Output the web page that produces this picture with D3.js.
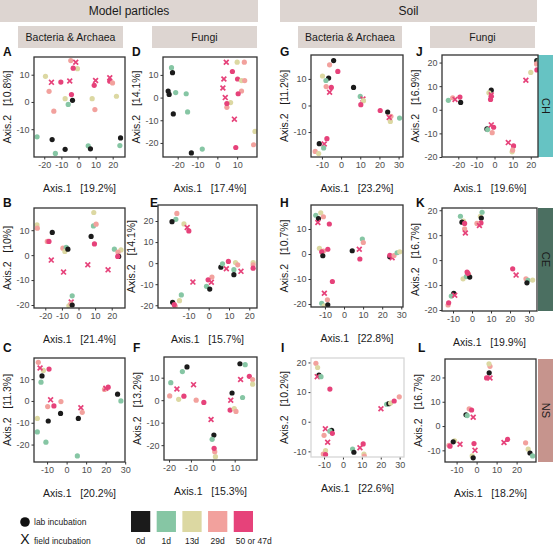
<!DOCTYPE html>
<html>
<head>
<meta charset="utf-8">
<script src="https://cdn.jsdelivr.net/npm/d3@7"></script>
<style>
  body { margin: 0; background: #fff; }
  svg { font-family: "Liberation Sans", Arial, sans-serif; }
</style>
</head>
<body>
<svg id="chart" width="555" height="546"></svg>
<script>
// Legend levels
const dayLevels = [0, 1, 13, 29, 50];
const dayLabels = ["0d", "1d", "13d", "29d", "50 or 47d"];
const dayColors = ["#1b1b1b", "#86c6a4", "#dcd8a2", "#f2a19d", "#e6427a"];

// Points per panel: [Axis.1, Axis.2, day, incubation (L = lab, F = field)]
const ptsA = [[-4.5,15.2,29,"L"],[-1.6,14.6,50,"F"],[-0.6,12.2,13,"L"],[-3.1,12.4,50,"L"],[-19.3,9.4,13,"L"],[-15.8,7.2,50,"F"],[-10.3,7.3,50,"L"],[-5.1,7.7,50,"F"],[-17.2,3.9,29,"L"],[-4.1,2.7,50,"L"],[-7.8,1.2,13,"L"],[-3.5,0.6,0,"L"],[-14.4,-3.4,29,"L"],[-6.0,-0.9,1,"L"],[10,7.9,50,"F"],[9.2,6.1,50,"L"],[18.3,8.9,50,"F"],[18.3,7.6,50,"L"],[19.9,7.0,29,"L"],[8.0,1.2,13,"L"],[9.6,-2.8,29,"L"],[22.2,2.1,13,"L"],[-24.2,-12.8,1,"L"],[-15.4,-13.8,0,"L"],[-13.5,-18.9,1,"L"],[-7.8,-17.4,0,"L"],[5.7,-16.1,1,"L"],[7.0,-17.2,0,"L"],[24.6,-13.2,0,"L"],[24.2,-16.0,1,"L"]];
const ptsB = [[-25,12.1,13,"L"],[-24.8,10.8,29,"L"],[-15.8,9.1,0,"L"],[-18.8,5.5,29,"L"],[-17.8,5.5,50,"L"],[-16.4,-2,50,"F"],[-9.4,2.8,29,"L"],[-7.4,3.1,1,"L"],[-8.2,1.5,13,"L"],[-6.4,2.4,0,"L"],[-9,-6.8,50,"F"],[9.2,17.1,13,"L"],[7.6,7.5,0,"L"],[9,11.7,1,"L"],[10.6,12.4,29,"L"],[9.6,4.5,50,"L"],[5.6,-3.9,50,"F"],[17.8,-5.9,50,"F"],[21.6,2.4,1,"L"],[25.6,2.1,13,"L"],[23.8,1.2,29,"L"],[24.2,-0.5,0,"L"],[23.6,-0.5,50,"L"],[-3.8,-16.3,1,"L"],[-4.4,-18.8,50,"F"],[-5.8,-20.3,13,"L"],[-4.6,-19.5,29,"L"],[-3.8,-20,0,"L"]];
const ptsC = [[-14.5,17.7,29,"L"],[-11.9,14,13,"L"],[-13.6,15.1,50,"F"],[-9,14.6,50,"L"],[-12.6,11.5,0,"L"],[-13.1,8.6,1,"L"],[-8.2,0.5,50,"F"],[-2.9,-0.3,29,"L"],[-9.7,-2.6,29,"L"],[-6.5,-2.3,50,"L"],[-3.1,-5.7,0,"L"],[-9.4,-9.2,0,"L"],[-15,-8,13,"L"],[-15,-14.2,1,"L"],[-10.6,-18.9,1,"L"],[5.5,-25.2,1,"L"],[6,-8,0,"L"],[7.3,-3.1,50,"F"],[8,-5.2,29,"L"],[19.4,5.3,29,"L"],[20.1,5.8,50,"F"],[21.3,6.3,50,"L"],[26.1,3.1,0,"L"],[27.8,0,1,"L"]];
const ptsD = [[-23.1,13.2,1,"L"],[-22.6,11.0,0,"L"],[-24.8,2.9,0,"L"],[-24.3,1.4,0,"L"],[-21.0,2.2,1,"L"],[-15.7,1.7,1,"L"],[-22.2,-7.2,0,"L"],[-15.0,-6.3,1,"L"],[-13.1,-24.4,0,"L"],[-7.6,-22.7,1,"L"],[4.5,15.6,50,"F"],[10.0,15.6,13,"L"],[13.6,15.6,29,"L"],[7.6,11.5,50,"L"],[3.3,8.2,50,"F"],[10.2,8.2,50,"L"],[12.2,7.5,13,"L"],[13.8,7.5,29,"L"],[2.8,4.2,50,"F"],[12.2,2.9,29,"L"],[10.5,1.7,50,"L"],[4.0,0,50,"F"],[4.8,-4.3,29,"L"],[6.7,-2.2,13,"L"],[4.8,-2.6,50,"L"],[8.6,-9.5,50,"F"],[19.0,-14.9,13,"L"],[9.3,-22.0,50,"L"],[18.3,-20.8,29,"L"]];
const ptsE = [[-15.7,23.6,29,"L"],[-16.2,20.8,1,"L"],[-18.1,19.7,0,"L"],[-12.2,18.6,13,"L"],[-10.6,16.9,50,"F"],[-9.8,15.3,50,"L"],[-7.8,-9,50,"F"],[-13.5,-15.1,1,"L"],[-14.4,-17.8,13,"L"],[-16.5,-20.4,29,"L"],[-17.8,-18.6,0,"L"],[-17,-19.7,50,"L"],[-1.1,-11,1,"L"],[0.5,-12.3,0,"L"],[1.6,-6.6,29,"L"],[-0.3,-7.9,50,"L"],[1.3,-9.1,50,"F"],[6,-1.9,0,"L"],[6.8,-0.3,1,"L"],[9.7,0.8,50,"L"],[8.7,-2.7,50,"F"],[13.2,0.3,13,"L"],[14.3,-0.8,29,"L"],[12.4,-3.1,1,"L"],[12.4,-5.5,0,"L"],[15.9,-3.9,50,"F"],[21.9,0.3,13,"L"],[21.9,-0.8,29,"L"],[21.9,-2.4,50,"L"]];
const ptsF = [[-11.8,14.8,0,"L"],[-13.9,12.7,1,"L"],[-19.2,7.8,1,"L"],[-16.4,5,50,"F"],[-19.7,1.9,29,"L"],[-15.6,0.4,13,"L"],[-13.2,1.8,50,"L"],[-8.8,6.9,50,"F"],[-7.6,0,29,"L"],[-4.1,-1,50,"L"],[-0.8,-8.6,50,"F"],[0.5,-15.5,0,"L"],[-0.3,-17.4,1,"L"],[1.2,-25.1,13,"L"],[0.9,-22.9,29,"L"],[0.6,-21.4,50,"L"],[12.4,16.2,0,"L"],[14.8,15.8,1,"L"],[16.7,10.6,50,"L"],[18.2,9.2,29,"L"],[18.2,7.1,13,"L"],[12.7,9.2,50,"F"],[8.8,3.2,0,"L"],[8.2,0,50,"F"],[7.9,-4.4,50,"L"],[9.8,-3.7,13,"L"],[10.6,-5,29,"L"],[13.6,1.2,1,"L"]];
const ptsG = [[-3.9,16.9,0,"L"],[-6,15.3,29,"L"],[-1.7,12.8,50,"L"],[-9.7,11.1,13,"L"],[-6.5,10.3,0,"L"],[-7.9,9.4,1,"L"],[-7.8,7.1,29,"L"],[-5.1,6.8,50,"L"],[-6.0,5.0,50,"F"],[6.5,6.8,0,"L"],[10,3.4,1,"L"],[11.4,2.4,50,"F"],[11.7,1.8,13,"L"],[10.3,0.3,50,"L"],[20.4,-1.9,50,"L"],[24.3,-2.5,0,"L"],[26,-4.1,29,"L"],[25.7,-6,13,"L"],[25.1,-4.5,50,"F"],[30.5,-4.75,1,"L"],[-11.4,-14.4,0,"L"],[-7.4,-12.5,50,"L"],[-8.8,-14.5,50,"F"],[-9.1,-16,1,"L"],[-13.5,-17.3,29,"L"],[-11.7,-18.1,13,"L"]];
const ptsH = [[-14.8,15.5,1,"L"],[-12.2,16.5,13,"L"],[-10.8,14.9,29,"L"],[-13.4,14.2,0,"L"],[-13.7,12.6,50,"F"],[-7.7,12,50,"L"],[-12.9,2.3,13,"L"],[-10.8,1.2,29,"L"],[-11.7,0.9,50,"L"],[-8.5,1.9,50,"L"],[-11.1,-0.7,0,"L"],[4.3,1.3,0,"L"],[8,1.9,50,"F"],[8.3,-2,50,"L"],[9.6,6,1,"L"],[10.1,4.6,29,"L"],[24,-1.1,0,"L"],[24,-0.5,50,"L"],[25.2,-1.5,50,"F"],[26.2,-0.6,29,"L"],[27.8,0.5,1,"L"],[29.2,0.9,13,"L"],[-6.1,-11,50,"L"],[-10.3,-15.7,50,"F"],[-8.7,-18.3,29,"L"],[-11.7,-19.7,1,"L"],[-10.4,-20.7,13,"L"],[-8.5,-20.3,0,"L"]];
const ptsI = [[-14.3,19.7,29,"L"],[-13.4,18.3,13,"L"],[-12.7,15.7,0,"L"],[-13.6,15.2,50,"F"],[-11.6,15.2,1,"L"],[-6.9,11,50,"L"],[-9.3,-2.4,50,"F"],[-10,-4.6,29,"L"],[-8.1,-6.9,50,"F"],[-6,-2.9,0,"L"],[-6.9,-3.2,1,"L"],[-5.6,-3.9,50,"L"],[-9.2,-9.7,13,"L"],[-10.4,-10.9,29,"L"],[-9.2,-11.1,50,"L"],[5.1,-9.2,1,"L"],[5.8,-10.3,0,"L"],[9,-8.8,50,"F"],[10.7,-7.5,50,"L"],[11.1,-10.9,13,"L"],[11.3,-11.6,29,"L"],[20.1,4.4,50,"F"],[23.1,5.9,1,"L"],[24.3,6.1,0,"L"],[25.2,6.3,13,"L"],[27.1,7,50,"L"],[29.8,8.4,29,"L"]];
const ptsJ = [[23.3,20.8,0,"L"],[24.5,20.8,1,"L"],[23.2,19.4,29,"L"],[20,15.8,13,"L"],[23.4,16.9,50,"L"],[17.3,12.5,50,"F"],[-25.5,4.0,1,"L"],[-23.1,5.1,29,"L"],[-21.8,4.4,50,"F"],[-19.1,5.4,50,"L"],[-18.7,3.1,0,"L"],[-1.8,8.3,0,"L"],[-3.1,7.2,13,"L"],[-1.8,6.3,50,"F"],[-1.8,5.8,50,"L"],[-2.2,4.4,50,"L"],[-4.2,-8.1,0,"L"],[-3.8,-8.4,1,"L"],[-1.8,-6.4,50,"F"],[-0.5,-7.4,50,"L"],[-1.3,-9.7,29,"L"],[7.6,-13.9,50,"F"],[10.5,-15.3,50,"L"],[9.7,-17.8,13,"L"],[10,-17.1,29,"L"]];
const ptsK = [[-6.1,17.6,1,"L"],[-4.5,15.6,13,"L"],[-5.3,15.2,0,"L"],[-3.9,14.7,50,"L"],[-3.9,12.5,29,"L"],[-3.5,10.9,50,"F"],[4.4,17.6,13,"L"],[5.3,19.2,1,"L"],[4.9,16.9,0,"L"],[4.7,14.9,50,"L"],[2.6,14.7,29,"L"],[3.9,13.9,50,"F"],[-4.7,-7.5,13,"L"],[-3,-6.6,1,"L"],[-1.8,-5.7,29,"L"],[-2.6,-4.8,50,"L"],[-1.2,-6.8,0,"L"],[-2.2,-5.3,50,"L"],[21.4,-3.5,50,"L"],[23.2,-6,50,"F"],[28.4,-7.5,29,"L"],[29.5,-8.1,1,"L"],[28.9,-9.1,0,"L"],[31.9,-8,13,"L"],[-9.6,-13.3,0,"L"],[-10.9,-14.4,1,"L"],[-9.1,-14.1,50,"F"],[-12.6,-18,29,"L"],[-12.3,-17.1,50,"L"]];
const ptsL = [[6.7,24.6,29,"L"],[6.2,25.6,13,"L"],[6.3,21.9,0,"L"],[5,19.8,50,"L"],[6.7,19.8,50,"F"],[-3.7,7.1,29,"L"],[-2.5,6.6,50,"L"],[-5.3,4.6,0,"L"],[-4.7,4.3,1,"L"],[-1.7,3.6,50,"F"],[-11,-6.1,13,"L"],[-11.7,-6.5,0,"L"],[-13.8,-7.9,29,"L"],[-13.3,-8.3,50,"L"],[-8.3,-7.5,50,"F"],[-1.3,-7.2,50,"L"],[-0.8,-10,50,"F"],[-2.2,-12.3,13,"L"],[-1.7,-13.1,0,"L"],[13.7,-6.8,50,"F"],[15.5,-5.5,50,"L"],[24.5,-6.9,29,"L"],[25.8,-9.5,13,"L"],[26.7,-11.1,0,"L"],[28,-12.3,1,"L"]];

// Axis titles (percent of variation)
const axis1Pct = { A: "19.2%", B: "21.4%", C: "20.2%", D: "17.4%", E: "15.7%", F: "15.3%", G: "23.2%", H: "22.8%", I: "22.6%", J: "19.6%", K: "19.9%", L: "18.2%" };
const axis2Pct = { A: "10.8%", B: "10%", C: "11.3%", D: "14.1%", E: "14.1%", F: "13.2%", G: "11.2%", H: "10.7%", I: "10.2%", J: "16.9%", K: "16.7%", L: "16.7%" };

// Axis ranges and ticks
const xDomains = { A: [-26, 27.2], B: [-26.8, 28], C: [-16.7, 29.9], D: [-27.4, 20], E: [-25, 23.8], F: [-22.3, 20.2], G: [-15.7, 32.3], H: [-17.3, 30.9], I: [-16.9, 32.3], J: [-29, 24], K: [-15.8, 34.2], L: [-15.8, 29.7] };
const yDomains = { A: [-20.2, 16.5], B: [-21.2, 18.9], C: [-28, 19.7], D: [-26.2, 17.9], E: [-21.3, 27.6], F: [-26.6, 19.2], G: [-19.4, 19], H: [-21.2, 19.6], I: [-11.9, 21.5], J: [-20, 23.2], K: [-20.4, 20.9], L: [-14.8, 27.6] };
const xTicks = { A: [-20,-10,0,10,20], B: [-20,-10,0,10,20], C: [-10,0,10,20,30], D: [-20,-10,0,10], E: [-10,0,10,20], F: [-20,-10,0,10], G: [-10,0,10,20,30], H: [-10,0,10,20,30], I: [-10,0,10,20,30], J: [-20,-10,0,10,20], K: [-10,0,10,20,30], L: [-10,0,10,20] };
const yTicks = { A: [-10,0,10], B: [-20,-10,0,10], C: [-20,-10,0,10], D: [-20,-10,0,10], E: [-20,-10,0,10,20], F: [-20,-10,0,10], G: [-10,0,10], H: [-20,-10,0,10], I: [-10,0,10,20], J: [-20,-10,0,10,20], K: [-20,-10,0,10,20], L: [-10,0,10,20] };

const panelPoints = { A: ptsA, B: ptsB, C: ptsC, D: ptsD, E: ptsE, F: ptsF, G: ptsG, H: ptsH, I: ptsI, J: ptsJ, K: ptsK, L: ptsL };

const stripLabels = ["CH", "CE", "NS"];
const stripColors = ["#66c3c3", "#4b6f61", "#c6948d"];

// Layout (pixels): panel boxes [x0, x1, y0, y1]
const layout = {
  A: [34, 125, 57, 157], B: [34, 125, 208, 308], C: [34, 125, 358, 462],
  D: [163, 257, 57, 157], E: [158, 257, 205, 308], F: [164, 257, 357, 460],
  G: [311, 403, 55, 157], H: [311, 403, 205, 307], I: [311, 404, 358, 457],
  J: [442, 538, 55, 157], K: [442, 537, 208, 311], L: [445, 536, 359, 462]
};
const letterPos = {
  A: [3, 56], B: [3, 207], C: [3, 352], D: [132, 56], E: [150, 207], F: [133, 352],
  G: [280, 56], H: [280, 207], I: [281, 352], J: [416, 56], K: [416, 207], L: [418, 352]
};

const svg = d3.select("#chart");
const colorOf = d3.scaleOrdinal().domain(dayLevels).range(dayColors);

// Headers
function header(x0, x1, y0, y1, label, size) {
  svg.append("rect").attr("x", x0).attr("y", y0).attr("width", x1 - x0).attr("height", y1 - y0)
    .attr("fill", "#ddd5d1");
  svg.append("text").attr("x", (x0 + x1) / 2).attr("y", (y0 + y1) / 2 + size * 0.36)
    .attr("text-anchor", "middle").attr("font-size", size).attr("fill", "#1a1a1a").text(label);
}
header(0, 258, 0, 22, "Model particles", 12);
header(280, 537, 0, 22, "Soil", 12);
header(18, 123, 26, 48, "Bacteria & Archaea", 10.5);
header(152, 257, 26, 48, "Fungi", 10.5);
header(298, 402, 26, 48, "Bacteria & Archaea", 10.5);
header(430, 535, 26, 48, "Fungi", 10.5);

// Strips on the right
["J", "K", "L"].forEach((k, i) => {
  const b = layout[k];
  svg.append("rect").attr("x", 538).attr("y", b[2]).attr("width", 15).attr("height", b[3] - b[2])
    .attr("fill", stripColors[i]);
  svg.append("text").attr("transform", `translate(${545.5 - 4},${(b[2] + b[3]) / 2}) rotate(90)`)
    .attr("text-anchor", "middle").attr("font-size", 11).attr("fill", "#1a1a1a").text(stripLabels[i]);
});

function drawPanel(key) {
  const b = layout[key];
  const x = d3.scaleLinear().domain(xDomains[key]).range([b[0], b[1]]);
  const y = d3.scaleLinear().domain(yDomains[key]).range([b[3], b[2]]);
  const g = svg.append("g");

  g.append("clipPath").attr("id", "clip" + key)
    .append("rect").attr("x", b[0]).attr("y", b[2]).attr("width", b[1] - b[0]).attr("height", b[3] - b[2]);

  const xa = g.append("g").attr("transform", `translate(0,${b[3]})`)
    .call(d3.axisBottom(x).tickValues(xTicks[key]).tickSize(2.5).tickPadding(2).tickFormat(d => String(d)));
  const ya = g.append("g").attr("transform", `translate(${b[0]},0)`)
    .call(d3.axisLeft(y).tickValues(yTicks[key]).tickSize(2.5).tickPadding(2).tickFormat(d => String(d)));
  [xa, ya].forEach(a => {
    a.select(".domain").remove();
    a.selectAll("line").attr("stroke", "#333");
    a.selectAll("text").attr("font-size", 9).attr("fill", "#4d4d4d").attr("font-family", "Liberation Sans, Arial, sans-serif");
  });

  const pg = g.append("g").attr("clip-path", `url(#clip${key})`);
  panelPoints[key].forEach(p => {
    const cx = x(p[0]), cy = y(p[1]);
    if (p[3] === "F") {
      const a = 2.4;
      pg.append("path").attr("d", `M${cx - a},${cy - a}L${cx + a},${cy + a}M${cx - a},${cy + a}L${cx + a},${cy - a}`)
        .attr("stroke", colorOf(p[2])).attr("stroke-width", 1.7).attr("fill", "none");
    } else {
      pg.append("circle").attr("cx", cx).attr("cy", cy).attr("r", 2.6).attr("fill", colorOf(p[2]));
    }
  });

  g.append("rect").attr("x", b[0]).attr("y", b[2]).attr("width", b[1] - b[0]).attr("height", b[3] - b[2])
    .attr("fill", "none").attr("stroke", key === "I" ? "#d6d6d6" : "#333").attr("stroke-width", 1.3);

  g.append("text").attr("x", (b[0] + b[1]) / 2).attr("y", b[3] + 35)
    .attr("text-anchor", "middle").attr("font-size", 10.5).attr("fill", "#1a1a1a")
    .style("white-space", "pre").text(`Axis.1   [${axis1Pct[key]}]`);
  g.append("text").attr("transform", `translate(${b[0] - 23},${(b[2] + b[3]) / 2}) rotate(-90)`)
    .attr("text-anchor", "middle").attr("font-size", 10.5).attr("fill", "#1a1a1a")
    .style("white-space", "pre").text(`Axis.2   [${axis2Pct[key]}]`);

  g.append("text").attr("x", letterPos[key][0]).attr("y", letterPos[key][1])
    .attr("font-size", 12).attr("font-weight", "bold").attr("fill", "#111").text(key);
}
Object.keys(layout).forEach(drawPanel);

// Legend
const leg = svg.append("g");
leg.append("circle").attr("cx", 25).attr("cy", 522).attr("r", 4.8).attr("fill", "#111");
leg.append("text").attr("x", 34).attr("y", 525).attr("font-size", 8.5).attr("fill", "#1a1a1a").text("lab incubation");
leg.append("text").attr("x", 25).attr("y", 546 - 2).attr("text-anchor", "middle").attr("font-size", 14).attr("fill", "#111").text("X");
leg.append("text").attr("x", 34).attr("y", 544).attr("font-size", 8.5).attr("fill", "#1a1a1a").text("field incubation");

const legX = d3.scaleBand().domain(dayLabels).range([131, 253]).paddingInner(0.25).paddingOuter(0);
dayLabels.forEach((lab, i) => {
  leg.append("rect").attr("x", legX(lab)).attr("y", 511).attr("width", legX.bandwidth()).attr("height", 21)
    .attr("fill", dayColors[i]);
  leg.append("text").attr("x", i === 4 ? legX(lab) + 2 : legX(lab) + legX.bandwidth() / 2).attr("y", 544)
    .attr("text-anchor", i === 4 ? "start" : "middle").attr("font-size", 8.5).attr("fill", "#1a1a1a").text(lab);
});
</script>
</body>
</html>
